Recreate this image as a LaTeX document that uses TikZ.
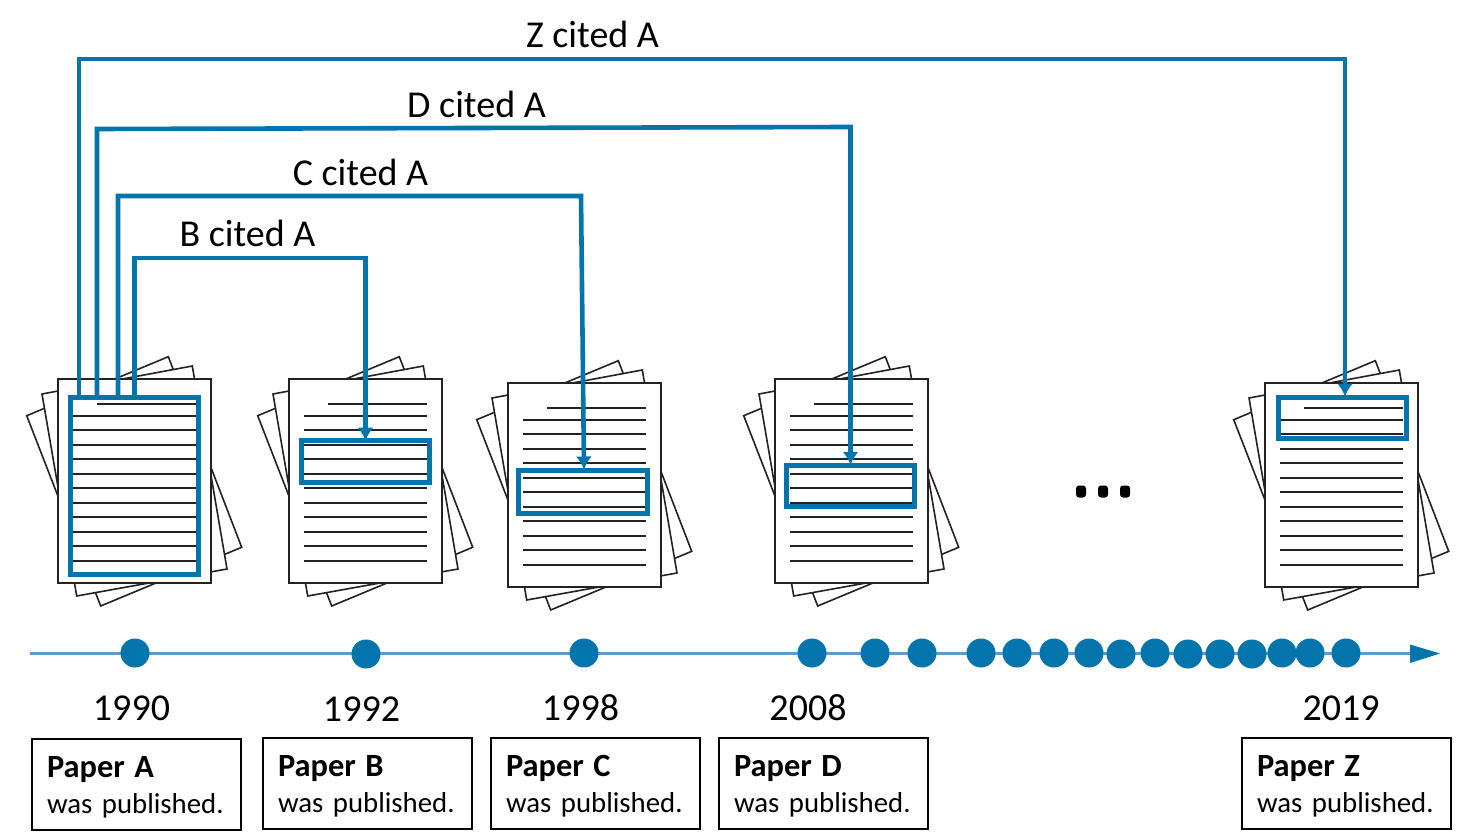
\documentclass[tikz,border=0pt]{standalone}
\usepackage{fontspec}
\setmainfont{Carlito}
\usetikzlibrary{arrows.meta}
\definecolor{cite}{HTML}{0474AD}
\definecolor{axis}{HTML}{5B9BD5}
\definecolor{ink}{HTML}{222222}
\tikzset{
  sheet/.style={draw=ink,fill=white,line width=0.8pt,line join=miter},
  textline/.style={draw=ink,line width=0.85pt},
  hilite/.style={draw=cite,line width=2.5pt,rectangle,outer sep=0pt,inner sep=0pt,minimum width=64.25pt},
  citearrow/.style={draw=cite,line width=2.3pt,-{Latex[length=6.5pt,width=8pt]}},
  dot/.style={circle,fill=cite,inner sep=0pt,minimum size=14.5pt},
  year/.style={font=\fontsize{19}{21}\selectfont,anchor=base,text=black},
  citelabel/.style={font=\fontsize{19}{21}\selectfont,anchor=base,text=black},
  pubbox/.style={draw=black,line width=0.8pt,rectangle,anchor=north west,minimum width=104.5pt,minimum height=45.5pt,
    inner sep=0pt,outer sep=0pt,text width=89.5pt,align=left,font=\fontsize{14.4}{18}\selectfont},
}
\newcommand{\papertitle}[1]{\rule{0pt}{13pt}{\fontsize{16.2}{18}\selectfont\textbf{#1}}}
\newcommand{\paperstack}[3]{%
  \begin{scope}[shift={(#2,#3)}]
    \draw[sheet] (-31.3,36.7)--(110.3,-22.3)--(183.7,168.3)--(42.7,227)--cycle;
    \draw[sheet] (-16,15)--(134.3,-13)--(169,190)--(18.7,217)--cycle;
    \node[draw=ink,fill=white,line width=0.8pt,rectangle,anchor=north west,inner sep=0pt,outer sep=0pt,minimum width=76.5pt,minimum height=102pt] (#1) at (0,0) {};
    \draw[textline] (39.3,25)--(137.7,25);
    \foreach \y in {36.7,51.2,65.7,80.2,94.7,109.2,123.7,138.2,152.7,167.2,181.7}
      \draw[textline] (15,\y)--(137.7,\y);
  \end{scope}}
\begin{document}
\begin{tikzpicture}[x=0.5pt,y=-0.5pt]
\useasboundingbox (0,0) rectangle (1476,839);
\paperstack{pageA}{58}{379}
\paperstack{pageB}{289}{379}
\paperstack{pageC}{508}{383}
\paperstack{pageD}{775}{379}
\paperstack{pageZ}{1265}{383}
% highlighted passages
\node[hilite,minimum height=88.25pt] (boxA) at (134.5,485.75) {};
\node[hilite,minimum height=20.9pt] (boxB) at (365.5,461.6) {};
\node[hilite,minimum height=21.5pt] (boxC) at (583,491.5) {};
\node[hilite,minimum height=20.5pt] (boxD) at (850.5,485.5) {};
\node[hilite,minimum height=20.5pt] (boxZ) at (1342.5,418) {};
% citation anchors on paper A
\coordinate (startZ) at (79,399);
\coordinate (startD) at (97,397.5);
\coordinate (startC) at (118,397.5);
\coordinate (startB) at (134.5,397.5);
\coordinate (endZ) at (1345,396.5);
\coordinate (endC) at (584,469.5);
% citation connectors
\draw[citearrow] (startZ) -- (79,59) -- (1345,59) -- (endZ);
\draw[citearrow] (startD) -- (97,129) -- (850.5,127) -- (boxD.north);
\draw[citearrow] (startC) -- (118,196) -- (581,196) -- (endC);
\draw[citearrow] (startB) -- (134.5,258) -- (365.5,258) -- (boxB.north);
\node[citelabel] (lz) at (592.5,47.5) {Z cited A};
\node[citelabel] (ld) at (476.5,117.5) {D cited A};
\node[citelabel] (lc) at (360.5,185.5) {C cited A};
\node[citelabel] (lb) at (247.5,246.5) {B cited A};
% ellipsis
\foreach \x/\n in {1081/e1,1103/e2,1125/e3}
  \node[fill=black,rectangle,rounded corners=1.5pt,inner sep=0pt,minimum width=5pt,minimum height=6pt] (\n) at (\x,491.5) {};
% timeline
\coordinate (tstart) at (30,653.5);
\coordinate (tend) at (1440,653.5);
\draw[axis,line width=1.3pt] (tstart) -- (1415,653.5);
\fill[cite] (1410,644.5) -- (tend) -- (1410,663) -- cycle;
\foreach \x/\y/\n in {135/653/d1,366/654/d2,584/653/d3,812/653/d4,875/653/d5,922/653/d6,981/653/d7,1017/653/d8,1054/653/d9,1089/653/d10,1121/654/d11,1155/653/d12,1188/654/d13,1220/654/d14,1252/654/d15,1282/653/d16,1310/653/d17,1346/653/d18}
  \node[dot] (\n) at (\x,\y) {};
% years
\node[year] (y1) at (131.5,720) {1990};
\node[year] (y2) at (361.5,721) {1992};
\node[year] (y3) at (580.5,720) {1998};
\node[year] (y4) at (808,720) {2008};
\node[year] (y5) at (1341,720) {2019};
% captions
\node[pubbox] (pa) at (32,739) {\papertitle{Paper A}\\was published.};
\node[pubbox] (pb) at (263,738) {\papertitle{Paper B}\\was published.};
\node[pubbox] (pc) at (491,738) {\papertitle{Paper C}\\was published.};
\node[pubbox] (pd) at (719,738) {\papertitle{Paper D}\\was published.};
\node[pubbox] (pz) at (1242,738) {\papertitle{Paper Z}\\was published.};
\end{tikzpicture}
\end{document}
